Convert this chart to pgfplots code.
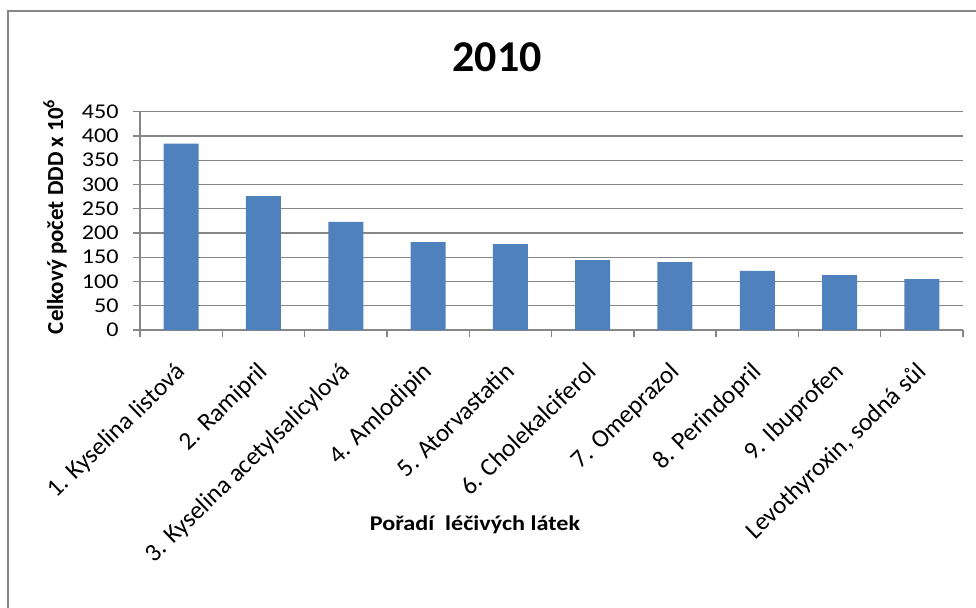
\documentclass[border=0pt]{standalone}
\usepackage{pgfplots}
\pgfplotsset{compat=1.18}
\usepackage{fontspec}
\setmainfont{Carlito}
\newfontfamily\widefont{Carlito}[FakeStretch=1.15]
\definecolor{barblue}{HTML}{4F81BD}
\definecolor{gridgray}{HTML}{868686}

\begin{document}
\begin{tikzpicture}
\useasboundingbox (0,0) rectangle (488pt,303.5pt);
% chart area frame
\draw[gridgray, line width=1pt] (4pt,-2pt) -- (4pt,298pt) -- (492pt,298pt);
\begin{axis}[
  at={(70pt,138.5pt)}, anchor=south west, scale only axis,
  width=411.5pt, height=109.15pt,
  xmin=0.5, xmax=10.5, ymin=0, ymax=450,
  ytick={0,50,...,450},
  xtick={0.5,1.5,2.5,3.5,4.5,5.5,6.5,7.5,8.5,9.5,10.5},
  xticklabels={},
  extra x ticks={1,2,3,4,5,6,7,8,9,10},
  extra x tick labels={1. Kyselina listová, 2. Ramipril, 3. Kyselina acetylsalicylová,
    4. Amlodipin, 5. Atorvastatin, 6. Cholekalciferol, 7. Omeprazol,
    8. Perindopril, 9. Ibuprofen, {Levothyroxin, sodná sůl}},
  extra x tick style={major tick length=0pt,
    tick label style={rotate=44, anchor=north east, inner sep=0pt,
      font=\fontsize{12.6}{14}\selectfont, yshift=-8.5pt, xshift=-13pt}},
  axis x line*=bottom, axis y line*=left,
  axis line style={gridgray, line width=0.7pt, -},
  ymajorgrids, grid style={gridgray, line width=0.7pt},
  tick align=outside,
  major tick length=3.5pt,
  tick style={gridgray, line width=0.7pt},
  /pgf/number format/assume math mode=true,
  yticklabel style={font=\widefont\fontsize{10.5}{12}\selectfont, inner sep=0pt, xshift=-7pt},
]
\addplot[ybar, bar width=17.5pt, fill=barblue, draw=none] coordinates {
  (1,384) (2,276) (3,223) (4,181) (5,177)
  (6,144) (7,140) (8,122) (9,113) (10,105)
};
\end{axis}
\node[font=\bfseries\fontsize{22}{26}\selectfont] at (248.5pt,275pt) {2010};
\node[font=\bfseries\fontsize{11.5}{13}\selectfont, rotate=90] at (27.5pt,195.25pt)
  {Celkový počet DDD x 10\textsuperscript{6}};
\node[font=\widefont\bfseries\fontsize{10.5}{12}\selectfont] at (237.5pt,41pt)
  {Pořadí\ \ léčivých látek};
\end{tikzpicture}
\end{document}
